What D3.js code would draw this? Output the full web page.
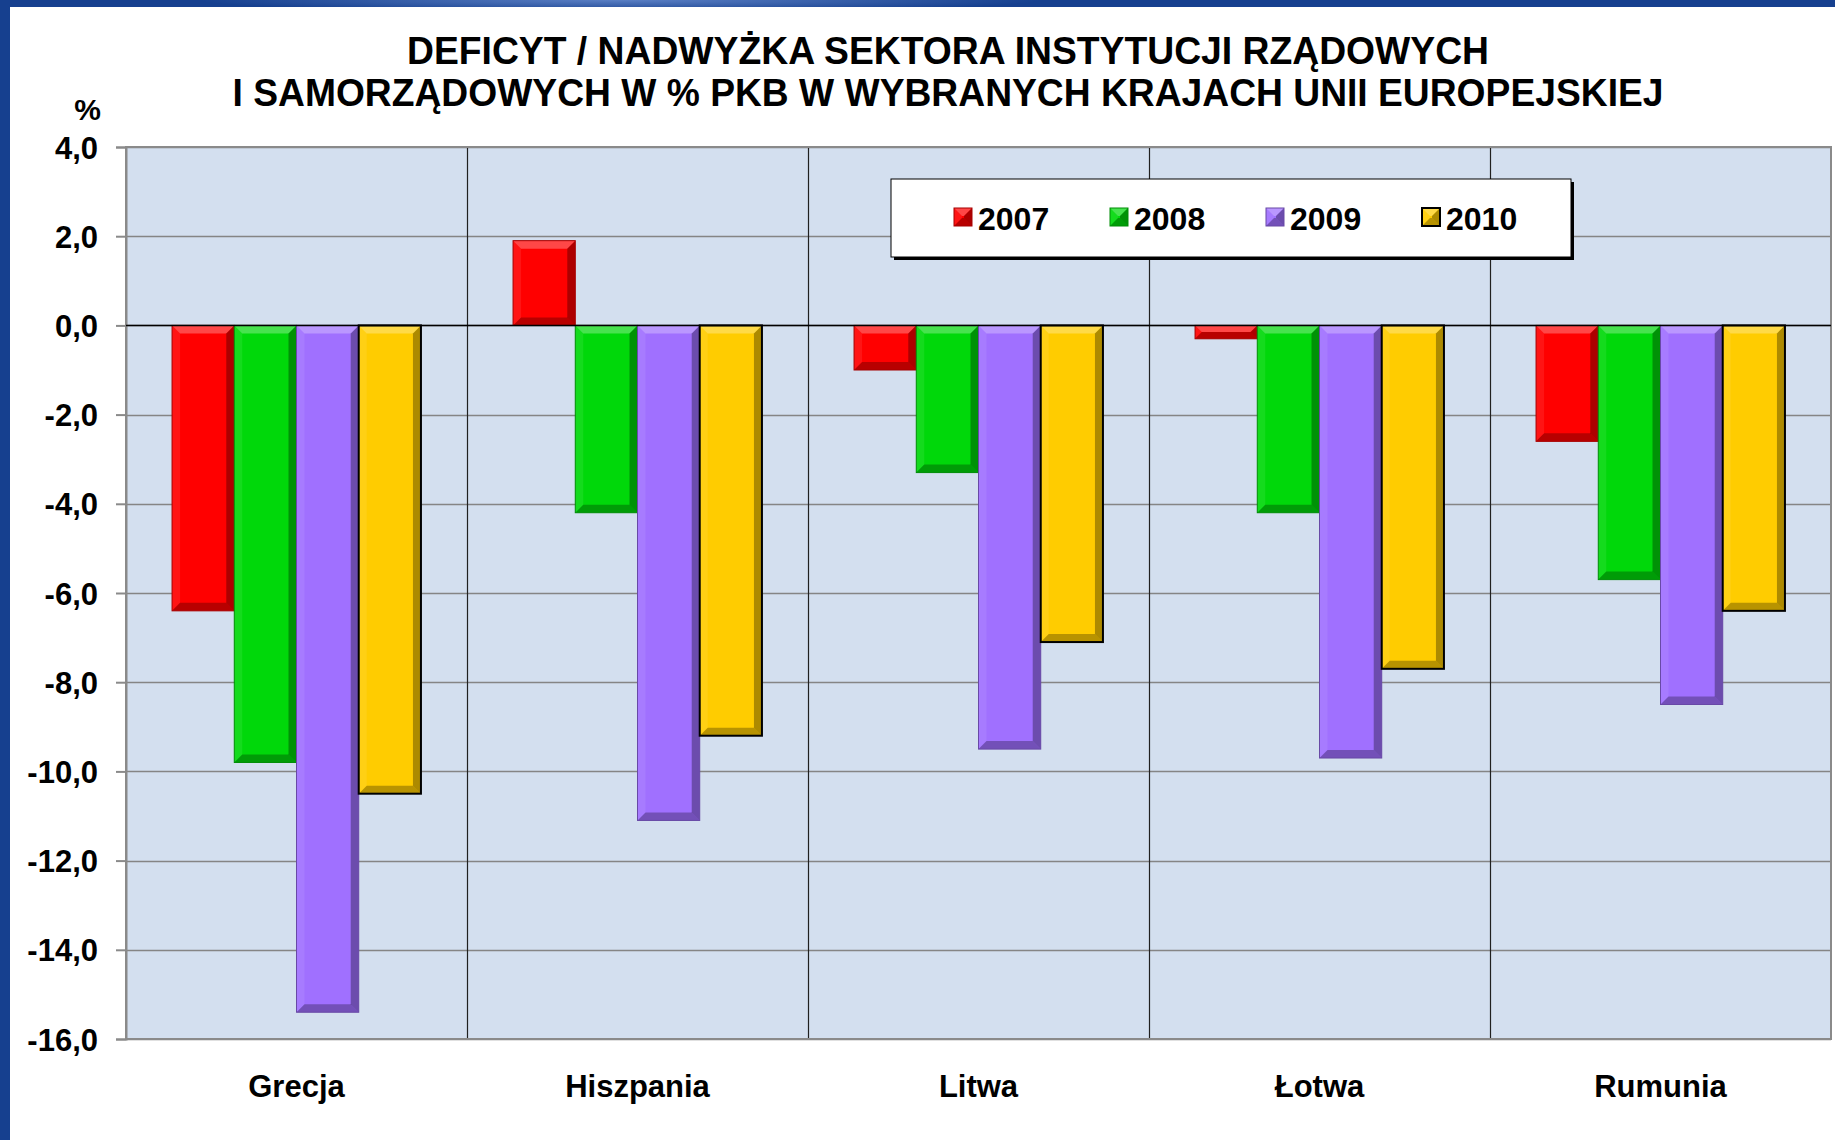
<!DOCTYPE html>
<html>
<head>
<meta charset="utf-8">
<script src="https://cdn.jsdelivr.net/npm/d3@7"></script>
<style>
  html, body { margin: 0; padding: 0; background: #fff; }
  svg { display: block; }
  text { font-family: "Liberation Sans", Arial, sans-serif; font-weight: bold; fill: #000; }
</style>
</head>
<body>
<svg id="chart" width="1835" height="1140"></svg>
<script>
// ---- data ----
const titleLines = [
  "DEFICYT / NADWYŻKA SEKTORA INSTYTUCJI RZĄDOWYCH",
  "I SAMORZĄDOWYCH W % PKB W WYBRANYCH KRAJACH UNII EUROPEJSKIEJ"
];
const unitLabel = "%";
const categories = ["Grecja", "Hiszpania", "Litwa", "Łotwa", "Rumunia"];
const years = ["2007", "2008", "2009", "2010"];
const values2007 = [-6.4, 1.9, -1.0, -0.3, -2.6];
const values2008 = [-9.8, -4.2, -3.3, -4.2, -5.7];
const values2009 = [-15.4, -11.1, -9.5, -9.7, -8.5];
const values2010 = [-10.5, -9.2, -7.1, -7.7, -6.4];
const yTickValues = [4, 2, 0, -2, -4, -6, -8, -10, -12, -14, -16];
const seriesColors = ["#FF0000", "#00D80A", "#A070FF", "#FFCC00"];

const seriesValues = [values2007, values2008, values2009, values2010];

// ---- layout ----
const svg = d3.select("#chart");
const W = 1835, H = 1140;
const plot = { left: 126, top: 147, right: 1831, bottom: 1039 };

// frame
const defs = svg.append("defs");
const rg = defs.append("radialGradient").attr("id", "swoosh")
  .attr("cx", "0.5").attr("cy", "0.5").attr("r", "0.5");
rg.append("stop").attr("offset", "0%").attr("stop-color", "#5a7fc4");
rg.append("stop").attr("offset", "100%").attr("stop-color", "#16408f");
svg.append("rect").attr("x", 0).attr("y", 0).attr("width", W).attr("height", H).attr("fill", "#16408f");
svg.append("ellipse").attr("cx", 620).attr("cy", 0).attr("rx", 420).attr("ry", 12).attr("fill", "url(#swoosh)");
svg.append("rect").attr("x", 10).attr("y", 7).attr("width", W - 10).attr("height", H - 7).attr("fill", "#ffffff");

// title
const titleG = svg.append("g");
const titleY = [64, 106];
const titleW = [1082, 1431];
titleLines.forEach((t, i) => {
  const el = titleG.append("text")
    .attr("x", 948).attr("y", titleY[i])
    .attr("text-anchor", "middle")
    .attr("font-size", 39)
    .text(t);
  const nat = el.node().getComputedTextLength();
  if (nat > titleW[i]) el.attr("textLength", titleW[i]).attr("lengthAdjust", "spacingAndGlyphs");
});

// scales
const x0 = d3.scaleBand().domain(categories).range([plot.left, plot.right]).paddingInner(0).paddingOuter(0);
const x1 = d3.scaleBand().domain(years).range([0, x0.bandwidth()]).paddingInner(0).paddingOuter(0.74);
const y = d3.scaleLinear().domain([-16, 4]).range([plot.bottom, plot.top]);

// plot background
svg.append("rect")
  .attr("x", plot.left).attr("y", plot.top)
  .attr("width", plot.right - plot.left).attr("height", plot.bottom - plot.top)
  .attr("fill", "#D3DFEF");

// horizontal gridlines
svg.append("g").selectAll("line").data(yTickValues).join("line")
  .attr("x1", plot.left).attr("x2", plot.right)
  .attr("y1", d => Math.round(y(d)) + 0.5).attr("y2", d => Math.round(y(d)) + 0.5)
  .attr("stroke", "#858585").attr("stroke-width", 1.5);

// vertical category dividers
svg.append("g").selectAll("line").data(categories.slice(1)).join("line")
  .attr("x1", d => Math.round(x0(d)) + 0.5).attr("x2", d => Math.round(x0(d)) + 0.5)
  .attr("y1", plot.top).attr("y2", plot.bottom)
  .attr("stroke", "#202020").attr("stroke-width", 1.2);

// plot border
svg.append("rect")
  .attr("x", plot.left).attr("y", plot.top)
  .attr("width", plot.right - plot.left).attr("height", plot.bottom - plot.top)
  .attr("fill", "none").attr("stroke", "#8a8a8a").attr("stroke-width", 2);

// y axis
const fmt = d => d3.format(".1f")(d).replace(".", ",").replace("\u2212", "-");
const yAxis = d3.axisLeft(y).tickValues(yTickValues).tickFormat(fmt).tickSize(10).tickPadding(18);
const yAxisG = svg.append("g").attr("transform", `translate(${plot.left},0)`).call(yAxis);
yAxisG.select(".domain").attr("stroke", "#8a8a8a").attr("stroke-width", 2);
yAxisG.selectAll(".tick line").attr("stroke", "#8a8a8a").attr("stroke-width", 2);
yAxisG.selectAll(".tick text")
  .attr("font-size", 31).attr("font-family", "Liberation Sans, Arial, sans-serif")
  .attr("font-weight", "bold").attr("fill", "#000").attr("dy", "0.36em");

// unit label
svg.append("text").attr("x", 101).attr("y", 120).attr("text-anchor", "end")
  .attr("font-size", 30).text(unitLabel);

// bars
function bevelBar(g, x, yTop, w, h, color, idx) {
  const c = d3.color(color);
  const b = Math.min(8, h / 2, w / 2);
  const grp = g.append("g");
  grp.append("rect").attr("x", x).attr("y", yTop).attr("width", w).attr("height", h).attr("fill", color);
  const poly = (pts, fill, op) => grp.append("polygon")
    .attr("points", pts.map(p => p.join(",")).join(" "))
    .attr("fill", fill).attr("fill-opacity", op);
  // top bevel (light)
  poly([[x, yTop], [x + w, yTop], [x + w - b, yTop + b], [x + b, yTop + b]], "#ffffff", 0.28);
  // left bevel (slight light)
  poly([[x, yTop], [x + b, yTop + b], [x + b, yTop + h - b], [x, yTop + h]], "#ffffff", 0.08);
  // right bevel (dark)
  poly([[x + w, yTop], [x + w - b, yTop + b], [x + w - b, yTop + h - b], [x + w, yTop + h]], "#000000", 0.32);
  // bottom bevel (dark)
  poly([[x, yTop + h], [x + w, yTop + h], [x + w - b, yTop + h - b], [x + b, yTop + h - b]], "#000000", 0.28);
  const isYellow = idx === 3;
  grp.append("rect").attr("x", x).attr("y", yTop).attr("width", w).attr("height", h)
    .attr("fill", "none")
    .attr("stroke", isYellow ? "#000" : c.darker(1.2).formatHex())
    .attr("stroke-width", isYellow ? 2 : 1);
}

const barsG = svg.append("g");
categories.forEach((cat, ci) => {
  years.forEach((yr, si) => {
    const v = seriesValues[si][ci];
    const bx = x0(cat) + x1(yr);
    const y0 = y(0), yv = y(v);
    const top = Math.min(y0, yv);
    const h = Math.abs(yv - y0);
    bevelBar(barsG, bx, top, x1.bandwidth(), h, seriesColors[si], si);
  });
});

// zero line
svg.append("line")
  .attr("x1", plot.left).attr("x2", plot.right)
  .attr("y1", Math.round(y(0)) + 0.5).attr("y2", Math.round(y(0)) + 0.5)
  .attr("stroke", "#000").attr("stroke-width", 1.5);

// x labels
svg.append("g").selectAll("text").data(categories).join("text")
  .attr("x", d => x0(d) + x0.bandwidth() / 2)
  .attr("y", 1097)
  .attr("text-anchor", "middle")
  .attr("font-size", 31)
  .text(d => d);

// legend
const lg = svg.append("g");
const L = { x: 891, y: 179, w: 680, h: 78 };
lg.append("rect").attr("x", L.x + 3).attr("y", L.y + 3).attr("width", L.w).attr("height", L.h).attr("fill", "#000");
lg.append("rect").attr("x", L.x).attr("y", L.y).attr("width", L.w).attr("height", L.h)
  .attr("fill", "#fff").attr("stroke", "#000").attr("stroke-width", 1);
const legendX = d3.scalePoint().domain(years).range([954, 1422]);
years.forEach((yr, si) => {
  const sx = legendX(yr);
  bevelBar(lg, sx, 208, 18, 18, seriesColors[si], si);
  lg.append("text").attr("x", sx + 24).attr("y", 230).attr("font-size", 32).text(yr);
});
</script>
</body>
</html>
